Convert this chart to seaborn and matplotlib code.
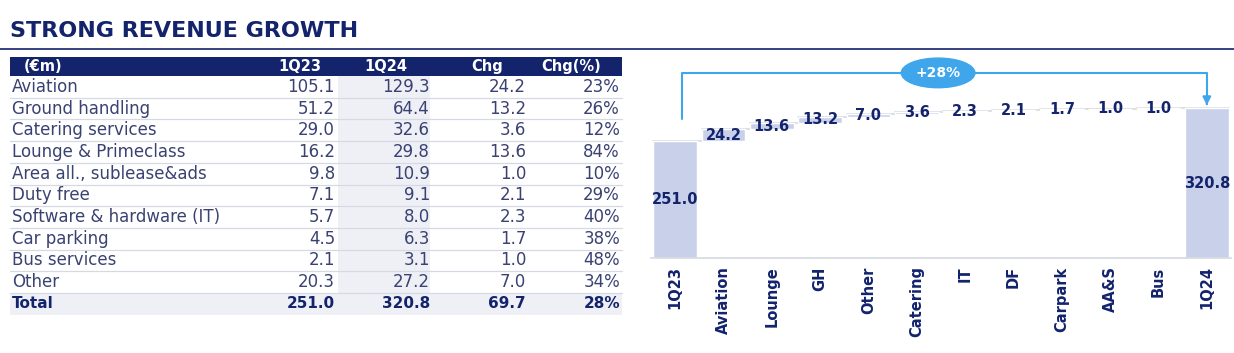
import numpy as np
import pandas as pd
import matplotlib
matplotlib.use("Agg")
import matplotlib.pyplot as plt
import seaborn as sns

# table data (EUR m)
segments = ["Aviation", "Ground handling", "Catering services", "Lounge & Primeclass",
            "Area all., sublease&ads", "Duty free", "Software & hardware (IT)",
            "Car parking", "Bus services", "Other"]
q23 = [105.1, 51.2, 29.0, 16.2, 9.8, 7.1, 5.7, 4.5, 2.1, 20.3]
q24 = [129.3, 64.4, 32.6, 29.8, 10.9, 9.1, 8.0, 6.3, 3.1, 27.2]
chg = [24.2, 13.2, 3.6, 13.6, 1.0, 2.1, 2.3, 1.7, 1.0, 7.0]
chg_pct = [23, 26, 12, 84, 10, 29, 40, 38, 48, 34]
total_row = ["Total", "251.0", "320.8", "69.7", "28%"]
header = ["(€m)", "1Q23", "1Q24", "Chg", "Chg(%)"]

# waterfall data
wf_start = 251.0
wf_end = 320.8
wf_cats = ["Aviation", "Lounge", "GH", "Other", "Catering", "IT", "DF", "Carpark", "AA&S", "Bus"]
wf_deltas = [24.2, 13.6, 13.2, 7.0, 3.6, 2.3, 2.1, 1.7, 1.0, 1.0]
growth_label = "+28%"

navy = "#13236c"
text_c = "#3a4272"
bar_c = "#c9d0ea"
blue = "#3fa6ec"
shade = "#eef0f6"
grid_c = "#d6d9e2"

sns.set_style("white")
plt.rcParams["font.family"] = ["DejaVu Sans"]

W, H = 1234, 353
fig = plt.figure(figsize=(W / 100, H / 100), dpi=100)

# background axes in pixel units for title + table
bg = fig.add_axes([0, 0, 1, 1])
bg.set_xlim(0, W)
bg.set_ylim(H, 0)
bg.axis("off")

bg.text(10, 31, "STRONG REVENUE GROWTH", fontsize=16, fontweight="bold", color=navy, va="center")
bg.plot([0, W], [49, 49], color=navy, lw=1.2)

# table layout
tx0, tx1 = 10, 622
head_top, head_bot = 57, 76
row_h = 21.7
col_right = [335, 430, 526, 620]
head_x = [300, 386, 487, 571]

bg.add_patch(plt.Rectangle((tx0, head_top), tx1 - tx0, head_bot - head_top, color=navy, lw=0))
bg.text(24, (head_top + head_bot) / 2, header[0], color="white", fontsize=10.5,
        fontweight="bold", va="center")
for hx, h in zip(head_x, header[1:]):
    bg.text(hx, (head_top + head_bot) / 2, h, color="white", fontsize=10.5,
            fontweight="bold", va="center", ha="center")

n = len(segments)
bg.add_patch(plt.Rectangle((338, head_bot), 92, row_h * n, color=shade, lw=0, zorder=0))
bg.add_patch(plt.Rectangle((tx0, head_bot + row_h * n), tx1 - tx0, row_h, color=shade, lw=0, zorder=0))

for i in range(n):
    yc = head_bot + row_h * (i + 0.5)
    vals = [f"{q23[i]:.1f}", f"{q24[i]:.1f}", f"{chg[i]:.1f}", f"{chg_pct[i]}%"]
    bg.text(12, yc, segments[i], color=text_c, fontsize=12, va="center")
    for cx, v in zip(col_right, vals):
        bg.text(cx, yc, v, color=text_c, fontsize=12, va="center", ha="right")
    yl = head_bot + row_h * (i + 1)
    bg.plot([tx0, tx1], [yl, yl], color=grid_c, lw=0.9, zorder=1)

yc = head_bot + row_h * (n + 0.5)
bg.text(12, yc, total_row[0], color=navy, fontsize=11, fontweight="bold", va="center")
for cx, v in zip(col_right, total_row[1:]):
    bg.text(cx, yc, v, color=navy, fontsize=11, fontweight="bold", va="center", ha="right")

# waterfall
cats = ["1Q23"] + wf_cats + ["1Q24"]
tops = wf_start + np.cumsum(wf_deltas)
bottoms = np.concatenate([[0], tops - np.array(wf_deltas), [0]])
heights = np.concatenate([[wf_start], wf_deltas, [wf_end]])
df = pd.DataFrame({"cat": cats, "height": heights, "bottom": bottoms})

ax = fig.add_axes([651 / W, (H - 258) / H, 580 / W, (258 - 50) / H])
ax.patch.set_alpha(0)

# connector lines
levels = np.concatenate([[wf_start], tops])
for i, lv in enumerate(levels):
    ax.plot([i - 0.45, i + 1.45], [lv, lv], color=grid_c, lw=1.2, zorder=1)

sns.barplot(data=df, x="cat", y="height", bottom=df["bottom"].values, color=bar_c,
            saturation=1, width=0.91, ax=ax, zorder=2)

for i, (b, h) in enumerate(zip(df["bottom"], df["height"])):
    ax.text(i, b + h / 2, f"{h:.1f}", ha="center", va="center", fontsize=10.5,
            fontweight="bold", color=navy, zorder=3)

# growth bracket
top_y = 396
ax.plot([0.15, 0.15, 11, 11], [298, top_y, top_y, 335], color=blue, lw=1.5, zorder=3)
ax.annotate("", xy=(11, wf_end), xytext=(11, 336),
            arrowprops=dict(arrowstyle="-|>", color=blue, lw=1.5, mutation_scale=12), zorder=3)
ax.text(5.44, top_y, growth_label, ha="center", va="center", fontsize=10, fontweight="bold",
        color="white", zorder=4,
        bbox=dict(boxstyle="ellipse,pad=0.25", fc=blue, ec=blue))

ax.set_xlim(-0.5, 11.5)
ax.set_ylim(0, 445)
ax.set_xlabel("")
ax.set_ylabel("")
ax.set_yticks([])
sns.despine(ax=ax, left=True)
ax.spines["bottom"].set_color(grid_c)
ax.spines["bottom"].set_linewidth(1.2)
ax.tick_params(axis="x", length=0, pad=6)
for lbl in ax.get_xticklabels():
    lbl.set_rotation(90)
    lbl.set_fontweight("bold")
    lbl.set_fontsize(10.5)
    lbl.set_color(navy)
    lbl.set_va("top")
    lbl.set_ha("center")

fig.savefig("out.png", dpi=100)
